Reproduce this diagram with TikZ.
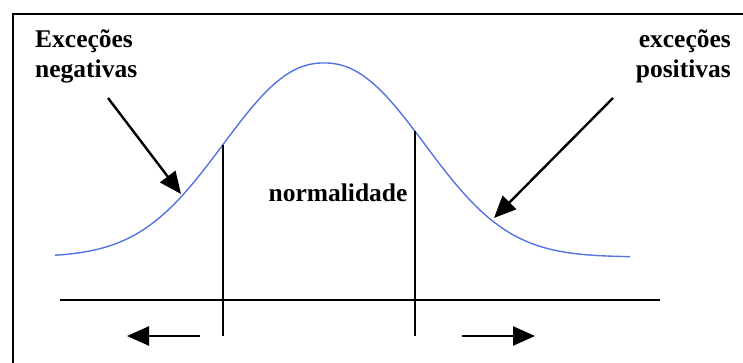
\documentclass[tikz,border=0pt]{standalone}
\usepackage{fontspec}
\setmainfont{Liberation Serif}
\usetikzlibrary{arrows.meta,calc}

\definecolor{curveblue}{RGB}{85,115,225}

\begin{document}
\begin{tikzpicture}[x=1pt,y=-1pt,
  declare function={bell(\x)=257-194*exp(-(abs(\x-324)/133)^2.2);},
  lbl/.style={font=\bfseries\fontsize{25.5}{30}\selectfont,inner sep=0pt},
  bigarrow/.style={line width=2.4pt,-{Triangle[length=22pt,width=19pt]}},
  marker/.style={line width=1.8pt}]
\useasboundingbox (0,0) rectangle (743,363);

% frame (only top and left edges fall inside the page)
\coordinate (FL) at (13,363);
\coordinate (FC) at (13,14);
\coordinate (FR) at (743,14);
\draw[line width=2pt] (FL) -- (FC) -- (FR);

% points
\coordinate (AxL) at (60,300);
\coordinate (AxR) at (660,300);
\coordinate (L1) at (223,{bell(223)});
\coordinate (L2) at (223,336);
\coordinate (R1) at (415,{bell(415)});
\coordinate (R2) at (415,336);

% bell curve
\draw[curveblue,line width=1.4pt] plot[domain=55:630,samples=116,smooth]
  (\x,{bell(\x)});

\draw[marker] (AxL) -- (AxR);
\draw[marker] (L1) -- (L2);
\draw[marker] (R1) -- (R2);

% labels
\node[lbl,anchor=base west,align=left] (neg) at (35,78) {Exceções\\negativas};
\node[lbl,anchor=base east,align=right] (pos) at (731,78) {exceções\\positivas};
\node[lbl,anchor=base] (norm) at (338,202) {normalidade};

% arrows
\coordinate (negS) at (108,98);
\coordinate (negT) at (181,194);
\coordinate (posS) at (613,98);
\coordinate (posT) at (494,218);
\draw[bigarrow] (negS) -- (negT);
\draw[bigarrow] (posS) -- (posT);

\coordinate (lS) at (200,336);
\coordinate (lT) at (127,336);
\coordinate (rS) at (462,336);
\coordinate (rT) at (535,336);
\draw[bigarrow] (lS) -- (lT);
\draw[bigarrow] (rS) -- (rT);

\end{tikzpicture}
\end{document}
